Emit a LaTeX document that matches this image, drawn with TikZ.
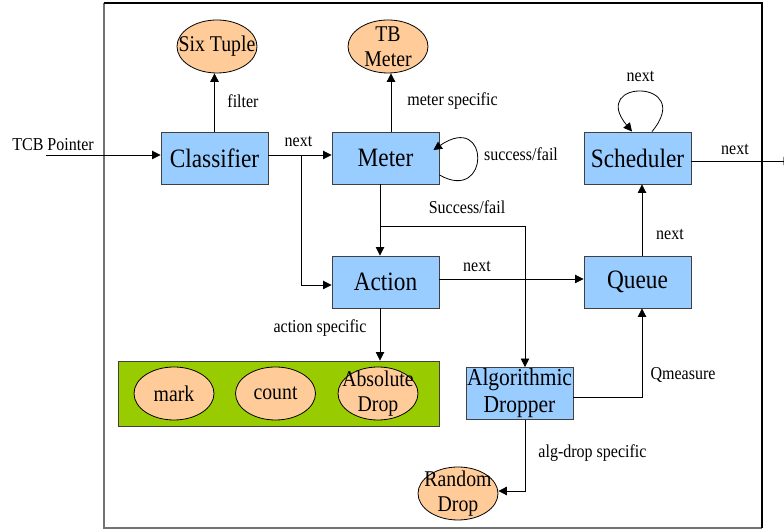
\documentclass[tikz,border=0pt]{standalone}
\usepackage{fontspec}
\setmainfont{Liberation Serif}[FakeStretch=0.88]
\usetikzlibrary{shapes.geometric,arrows.meta}
\definecolor{boxblue}{HTML}{99CCFF}
\definecolor{ovalpeach}{HTML}{FFCC99}
\definecolor{toolgreen}{HTML}{99CC00}
\begin{document}
\begin{tikzpicture}[x=1pt,y=1pt,
    block/.style={draw=black!75,fill=boxblue,line width=0.9pt,minimum width=107pt,minimum height=52pt,inner sep=0pt,align=center,font=\fontsize{26.5}{27}\selectfont},
    oval/.style={ellipse,draw,fill=ovalpeach,line width=0.8pt,minimum width=80pt,minimum height=53pt,inner xsep=-12pt,inner ysep=-10pt,align=center,font=\fontsize{22.5}{25}\selectfont},
    lbl/.style={font=\fontsize{18.2}{20}\selectfont,inner sep=0pt},
    arr/.style={-{Triangle[length=8.5pt,width=8.5pt]},line width=0.8pt}]
            \useasboundingbox (0,0) rectangle (784,529);
            % frame
            \draw[black!55,line width=1.6pt] (104,526) -- (104,1) -- (762,1);
            \draw[line width=1.2pt] (104,526) -- (762,526) -- (762,1);
            \node[block] (classifier) at (214.5,371) {Classifier};
            \node[block] (meter) at (385.5,371) {Meter};
            \node[block] (scheduler) at (637.5,371) {Scheduler};
            \node[block] (action) at (385.5,247) {Action};
            \node[block] (queue) at (637.5,247) {Queue};
            \node[block,font=\fontsize{24.4}{27}\selectfont] (dropper) at (519.5,135.5) {Algorithmic\\Dropper};
            \node[draw=black!75,fill=toolgreen,line width=0.9pt,minimum width=321pt,minimum height=65pt] (tools) at (278.5,135.5) {};
            \node[oval] (mark) at (174,135.5) {mark};
            \node[oval] (count) at (275.5,135.5) {count};
            \node[oval] (absdrop) at (378,135.5) {Absolute\\Drop};
            \node[oval] (sixtuple) at (217,482.5) {Six Tuple};
            \node[oval] (tbmeter) at (388,482.5) {TB\\Meter};
            \node[oval] (random) at (458,35.5) {Random\\Drop};
            \coordinate (tcb) at (46,374);
            \coordinate (split) at (301,374);
            \coordinate (sf) at (380,303);
            \coordinate (sink) at (792,368);
            % labels
            \node[lbl] (tcblbl) at (53,384) {TCB Pointer};
            \node[lbl] (filterlbl) at (243,428) {filter};
            \node[lbl] (nextlbl1) at (298.5,388) {next};
            \node[lbl] (meterlbl) at (452.5,428) {meter specific};
            \node[lbl] (sflbl) at (521,375) {success/fail};
            \node[lbl] (nextlbl2) at (640.5,453) {next};
            \node[lbl] (nextlbl3) at (735,380) {next};
            \node[lbl] (sflbl2) at (467,322) {Success/fail};
            \node[lbl] (nextlbl4) at (477,263) {next};
            \node[lbl] (nextlbl5) at (670,295) {next};
            \node[lbl] (actlbl) at (320,201) {action specific};
            \node[lbl] (qlbl) at (683,154) {Qmeasure};
            \node[lbl] (alglbl) at (592.5,76) {alg-drop specific};
            % connectors
            \draw[arr] (tcb) -- ([yshift=3pt]classifier.west);
            \draw[arr] ([yshift=3pt]classifier.east) -- ([yshift=3pt]meter.west);
            \draw[arr] (split) |- ([yshift=-3pt]action.west);
            \draw[arr] (classifier.north) -- (classifier.north |- sixtuple.south);
            \draw[arr] ([xshift=5.5pt]meter.north) -- ([xshift=5.5pt]meter.north |- tbmeter.south);
            \draw[arr] ([yshift=-17pt]meter.east) .. controls +(51,-29) and +(57,39) .. ([xshift=-6pt,yshift=8pt]meter.east);
            \draw[arr] ([xshift=-5.5pt]meter.south) -- ([xshift=-5.5pt]action.north);
            \draw[arr] (sf) -| ([xshift=5.5pt]dropper.north);
            \draw[arr] ([yshift=3pt]action.east) -- ([yshift=3pt]queue.west);
            \draw[arr] ([xshift=4.5pt]queue.north) -- ([xshift=4.5pt]scheduler.south);
            \draw[arr] ([xshift=14.5pt]scheduler.north) .. controls +(44,53) and +(-44,53) .. ([xshift=-5.5pt]scheduler.north);
            \draw[arr] ([yshift=-3pt]scheduler.east) -- (sink);
            \draw[arr] ([xshift=-5.5pt]action.south) -- ([xshift=-5.5pt]action.south |- tools.north);
            \draw[arr] ([yshift=-3.5pt]dropper.east) -| ([xshift=4.5pt]queue.south);
            \draw[arr] ([xshift=5.5pt]dropper.south) |- ([yshift=2.5pt]random.east);
\end{tikzpicture}
\end{document}
